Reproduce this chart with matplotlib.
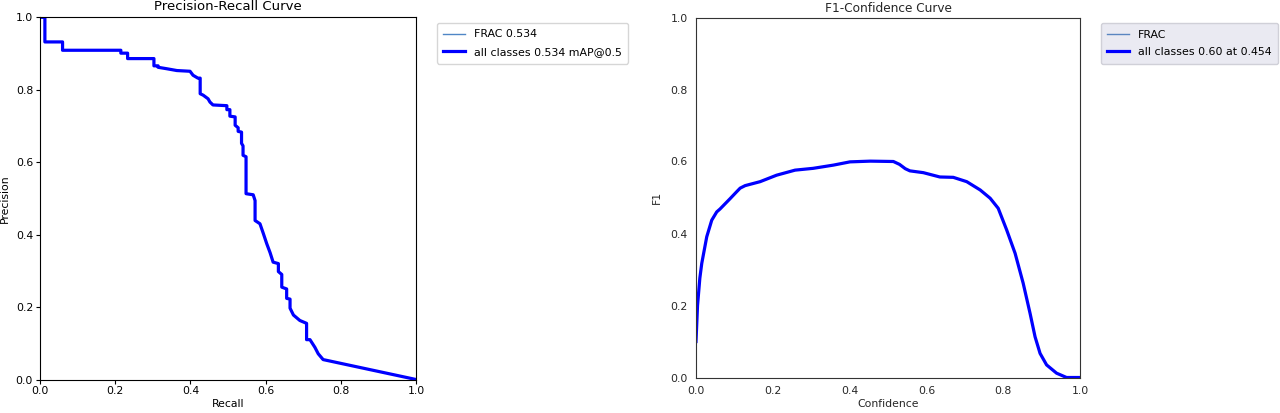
import matplotlib
matplotlib.use('Agg')
import matplotlib.pyplot as plt

# Precision-Recall (ступенчатая кривая)
recall = [0.0, 0.013, 0.013, 0.06, 0.06, 0.215, 0.215, 0.233, 0.233, 0.303, 0.303, 0.314,
          0.314, 0.337, 0.364, 0.399, 0.407, 0.42, 0.426, 0.426, 0.434, 0.447, 0.452, 0.46,
          0.497, 0.497, 0.505, 0.505, 0.519, 0.519, 0.527, 0.527, 0.536, 0.536, 0.54, 0.54,
          0.548, 0.548, 0.567, 0.572, 0.572, 0.585, 0.594, 0.603, 0.612, 0.62, 0.634, 0.634,
          0.643, 0.643, 0.656, 0.656, 0.665, 0.665, 0.674, 0.691, 0.709, 0.709, 0.718, 0.731,
          0.74, 0.753, 1.0]
precision = [1.0, 1.0, 0.932, 0.932, 0.909, 0.909, 0.901, 0.901, 0.886, 0.886, 0.866, 0.866,
             0.862, 0.858, 0.853, 0.851, 0.84, 0.832, 0.832, 0.789, 0.785, 0.775, 0.766, 0.758,
             0.756, 0.745, 0.745, 0.727, 0.725, 0.702, 0.695, 0.685, 0.683, 0.652, 0.645, 0.619,
             0.615, 0.513, 0.51, 0.494, 0.439, 0.43, 0.403, 0.375, 0.35, 0.324, 0.32, 0.298,
             0.29, 0.255, 0.25, 0.224, 0.222, 0.197, 0.178, 0.163, 0.155, 0.11, 0.11, 0.089,
             0.071, 0.055, 0.0]

# F1-Confidence
confidence = [0.0, 0.004, 0.010, 0.015, 0.028, 0.041, 0.054, 0.0625, 0.089, 0.105, 0.115,
              0.128, 0.167, 0.21, 0.258, 0.305, 0.358, 0.401, 0.454, 0.514, 0.53, 0.545,
              0.557, 0.592, 0.635, 0.67, 0.705, 0.74, 0.766, 0.787, 0.809, 0.831, 0.852,
              0.87, 0.883, 0.896, 0.913, 0.939, 0.965, 1.0]
f1 = [0.10, 0.20, 0.276, 0.317, 0.391, 0.437, 0.46, 0.468, 0.497, 0.515, 0.526,
      0.533, 0.544, 0.562, 0.576, 0.581, 0.590, 0.599, 0.601, 0.600, 0.592, 0.580,
      0.574, 0.569, 0.557, 0.556, 0.544, 0.521, 0.498, 0.47, 0.41, 0.345, 0.262,
      0.178, 0.113, 0.067, 0.035, 0.012, 0.0, 0.0]

class_name = 'FRAC'
map50 = 0.534
best_f1, best_conf = 0.60, 0.454

fig = plt.figure(figsize=(12.8, 4.13), dpi=100)

# левый график
ax1 = fig.add_axes([40 / 1280, 33.5 / 413, 376 / 1280, 362.2 / 413])
ax1.plot(recall, precision, linewidth=1, color='#4f86c6', label=f'{class_name} {map50:.3f}')
ax1.plot(recall, precision, linewidth=2.3, color='blue', label=f'all classes {map50:.3f} mAP@0.5')
ax1.set_xlim(0, 1)
ax1.set_ylim(0, 1)
ax1.set_xlabel('Recall', fontsize=7.8, labelpad=2)
ax1.set_ylabel('Precision', fontsize=7.8, labelpad=4)
ax1.set_title('Precision-Recall Curve', fontsize=9.5, pad=5)
ax1.tick_params(labelsize=7.8, length=3, pad=2)
ax1.legend(bbox_to_anchor=(1.04, 1), loc='upper left', fontsize=7.9, edgecolor='#cccccc',
           labelspacing=0.7, borderpad=0.6)

# правый график (стиль seaborn)
ax2 = fig.add_axes([696 / 1280, 35.5 / 413, 384 / 1280, 360 / 413])
ax2.plot(confidence, f1, linewidth=1, color='#5a85c0', label=class_name)
ax2.plot(confidence, f1, linewidth=2.3, color='blue',
         label=f'all classes {best_f1:.2f} at {best_conf:.3f}')
ax2.set_xlim(0, 1)
ax2.set_ylim(0, 1)
ax2.set_xlabel('Confidence', fontsize=7.8, labelpad=2, color='#262626')
ax2.set_ylabel('F1', fontsize=7.8, labelpad=6, color='#262626')
ax2.set_title('F1-Confidence Curve', fontsize=8.7, pad=4, color='#262626')
ax2.tick_params(labelsize=7.8, length=0, pad=6, labelcolor='#262626')
for s in ax2.spines.values():
    s.set_color('#333333')
ax2.legend(bbox_to_anchor=(1.04, 1), loc='upper left', fontsize=7.9,
           facecolor='#eaeaf2', edgecolor='#d0d0d8', framealpha=1,
           labelspacing=0.7, borderpad=0.6)

fig.savefig('out.png', dpi=100)
